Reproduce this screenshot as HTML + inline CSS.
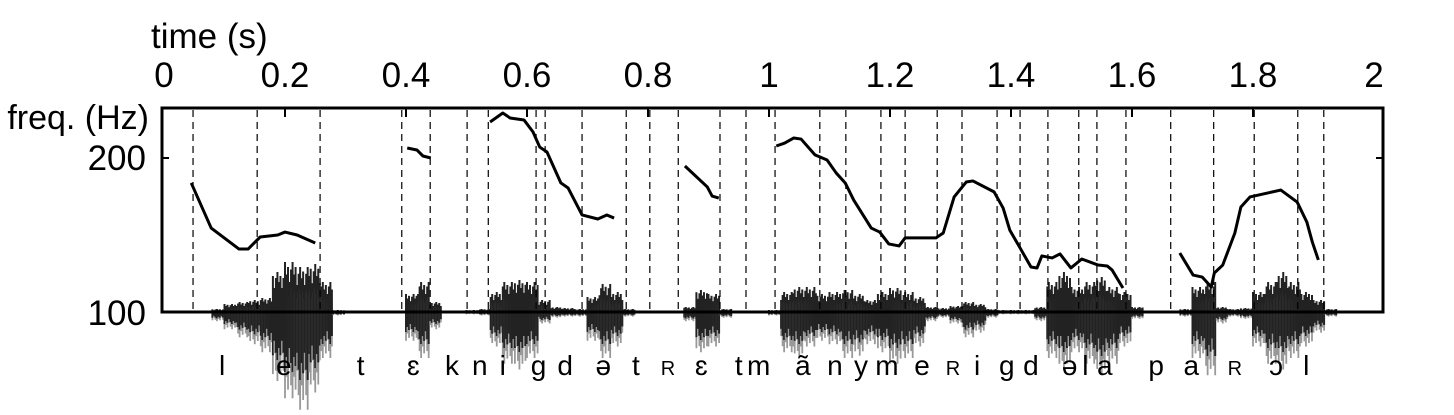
<!DOCTYPE html>
<html><head><meta charset="utf-8">
<style>
html,body{margin:0;padding:0;background:#fff;}
svg{display:block;}
text{font-family:"Liberation Sans Narrow","Liberation Sans",sans-serif;fill:#000;}
</style></head>
<body>
<svg id="chart" width="1454" height="415" viewBox="0 0 1454 415" xmlns="http://www.w3.org/2000/svg">
  <g id="wave"></g>
  <g id="grid"></g>
  <rect x="162" y="108" width="1221" height="204" fill="none" stroke="#000" stroke-width="3"/>
  <g id="ticks"></g>
  <g id="pitch"></g>
  <g id="phon"></g>
  <text x="151" y="48" font-size="35">time (s)</text>
  <text x="149" y="129" font-size="34" text-anchor="end">freq. (Hz)</text>
  <text x="146" y="170" font-size="35" text-anchor="end">200</text>
  <text x="146" y="325" font-size="35" text-anchor="end">100</text>
  <line x1="162" y1="158" x2="169" y2="158" stroke="#000" stroke-width="2"/>
  <line x1="1376" y1="158" x2="1383" y2="158" stroke="#000" stroke-width="2"/>
</svg>
<script>
const xTicks=[0,0.2,0.4,0.6,0.8,1,1.2,1.4,1.6,1.8,2];
const xTickLabels=["0","0.2","0.4","0.6","0.8","1","1.2","1.4","1.6","1.8","2"];
const boundaries=[0.048,0.154,0.258,0.393,0.440,0.501,0.536,0.615,0.630,0.691,0.764,0.803,0.850,0.919,0.962,1.010,1.084,1.127,1.185,1.225,1.278,1.319,1.377,1.415,1.461,1.512,1.542,1.590,1.664,1.735,1.802,1.874,1.917];
const pitchSegments=[
 [[0.045,183.8],[0.078,154.5],[0.124,140.9],[0.139,140.9],[0.159,148.7],[0.188,150],[0.2,151.9],[0.22,150],[0.25,144.8]],
 [[0.402,206.5],[0.418,205.2],[0.428,201.3],[0.441,200]],
 [[0.539,223.4],[0.56,229.2],[0.572,226],[0.595,224.7],[0.61,216.9],[0.621,207.1],[0.633,203.9],[0.656,183.8],[0.668,180.5],[0.691,163],[0.717,160.4],[0.732,163],[0.744,161]],
 [[0.861,194.8],[0.898,181.2],[0.906,175.3],[0.917,174]],
 [[1.012,207.8],[1.026,209.7],[1.041,213],[1.053,212.3],[1.076,202],[1.096,198.7],[1.111,190.3],[1.126,183.8],[1.14,172.7],[1.169,154.5],[1.183,151.9],[1.198,144.2],[1.215,142.9],[1.225,148.1],[1.276,148.1],[1.288,151.3],[1.306,174.7],[1.326,184.4],[1.337,185.1],[1.372,178],[1.387,167.5],[1.398,153.2],[1.415,141.6],[1.433,129.2],[1.443,128.6],[1.451,136.4],[1.468,135.1],[1.481,137.7],[1.499,128.6],[1.517,134.4],[1.544,130.5],[1.559,129.9],[1.567,127.3],[1.585,115.6]],
 [[1.679,138.3],[1.701,124],[1.716,122.7],[1.731,116.2],[1.736,125.3],[1.75,130.5],[1.77,151.3],[1.78,168.2],[1.795,174.7],[1.846,179.2],[1.873,171.4],[1.889,158.4],[1.898,145.5],[1.908,133.8]]
];
const phonemes=["l","e","t","ɛ","k","n","i","g","d","ə","t","ʀ","ɛ","t","m","ã","n","y","m","e","ʀ","i","g","d","ə","l","a","p","a","ʀ","ɔ","l"];
const phonemeTimes=[0.096,0.198,0.325,0.412,0.476,0.522,0.560,0.619,0.663,0.726,0.780,0.833,0.888,0.950,0.983,1.056,1.109,1.152,1.195,1.253,1.304,1.344,1.393,1.433,1.497,1.523,1.555,1.640,1.698,1.770,1.838,1.888];
const waveUp=[0,0,0,0,3,8,10,12,14,40,50,45,48,30,2,0,0,0,0,0,18,30,10,0,0,2,3,20,30,32,30,12,5,4,3,15,28,20,3,0,0,1,1,5,22,18,3,0,0,0,2,20,25,25,18,20,22,18,12,20,24,20,15,5,4,6,10,8,3,2,2,2,5,30,40,25,30,35,25,20,5,0,0,1,3,25,30,5,3,4,20,30,40,30,20,12,3,0,0,0];
const waveDown=[0,0,0,0,8,15,22,28,35,60,75,85,70,40,3,0,0,0,0,0,25,40,15,0,0,2,3,30,45,50,40,10,5,4,4,25,40,30,4,0,0,1,1,8,35,30,5,0,0,0,3,35,40,30,25,28,40,38,28,35,45,40,30,8,5,10,22,18,5,2,2,2,8,40,50,35,45,55,45,30,6,0,0,1,4,40,55,10,4,6,30,45,50,40,30,18,4,0,0,0];
const X=t=>164+t*605;
const Y=f=>312-(f-100)*1.54;
const NS="http://www.w3.org/2000/svg";
function mk(tag,attrs,parent){const e=document.createElementNS(NS,tag);for(const k in attrs)e.setAttribute(k,attrs[k]);parent.appendChild(e);return e;}
const wave=document.getElementById('wave');
for(let i=0;i<waveUp.length;i++){
  const t=i*0.02;
  for(let j=0;j<8;j++){
    const tt=t+j*0.0025, x=X(tt);
    const k=(i*8+j)%5, var1=[1,0.75,0.9,0.6,0.85][k];
    const up=waveUp[i]*var1, dn=waveDown[i]*var1;
    if(up<=0&&dn<=0)continue;
    const g=mk('line',{x1:x,y1:312+dn*1.15,x2:x,y2:312-up*0.5,stroke:'#999','stroke-width':1.8},wave);
    
    
    const d=mk('line',{x1:x,y1:312+dn*0.8,x2:x,y2:312-up,stroke:'#222','stroke-width':2},wave);
    
    
  }
}
const grid=document.getElementById('grid');
boundaries.forEach(b=>{
  const l=mk('line',{x1:X(b),y1:110,x2:X(b),y2:312,stroke:'#000','stroke-width':1.2,'stroke-dasharray':'7,5'},grid);
  
  
});
const ticks=document.getElementById('ticks');
xTicks.forEach((t,i)=>{
  const tx=mk('text',{x:X(t),y:87,'font-size':35,'text-anchor':'middle'},ticks);
  tx.textContent=xTickLabels[i];
  
  
  if(t>0&&t<2){
    const m=mk('line',{x1:X(t),y1:108,x2:X(t),y2:117,stroke:'#000','stroke-width':2},ticks);
    
    
  }
});
const pitch=document.getElementById('pitch');
pitchSegments.forEach(seg=>{
  const p=mk('polyline',{points:seg.map(d=>X(d[0])+','+Y(d[1])).join(' '),fill:'none',stroke:'#000','stroke-width':3,'stroke-linejoin':'round'},pitch);
  
  
});
const phon=document.getElementById('phon');
phonemes.forEach((s,i)=>{
  const small=s==='ʀ';
  const tx=mk('text',{x:X(phonemeTimes[i]),y:375,'font-size':small?20:28,'text-anchor':'middle',
    'font-family':'"DejaVu Sans","Liberation Sans",sans-serif'},phon);
  tx.textContent=small?'R':s;
  
  
});
</script>
</body></html>
